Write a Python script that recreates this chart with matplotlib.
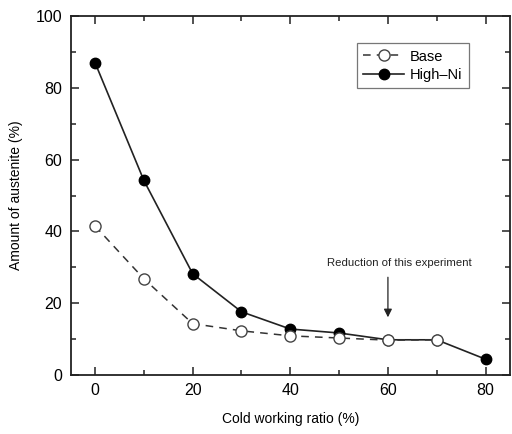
import matplotlib
matplotlib.use("Agg")
import matplotlib.pyplot as plt
from matplotlib.ticker import MultipleLocator

plt.rcParams['font.family'] = ['Liberation Sans', 'DejaVu Sans']

ratio = [0, 10, 20, 30, 40, 50, 60, 70, 80]
high_ni = [87.0, 54.2, 28.2, 17.6, 12.8, 11.7, 9.8, 9.8, 4.4]
base_ratio = [0, 10, 20, 30, 40, 50, 60, 70]
base = [41.5, 26.8, 14.3, 12.3, 10.9, 10.3, 9.7, 9.8]

fig = plt.figure(figsize=(5.12, 4.34), dpi=100)
ax = fig.add_axes([0.138, 0.136, 0.858, 0.827])

ax.plot(ratio, high_ni, '-', color='#222222', lw=1.2, marker='o',
        markersize=7.5, markerfacecolor='black', markeredgecolor='black',
        label='High\u2013Ni', zorder=2)
ax.plot(base_ratio, base, '--', color='#333333', lw=1.1, dashes=(5, 4),
        marker='o', markersize=8, markerfacecolor='white',
        markeredgecolor='#444444', markeredgewidth=1.0, label='Base', zorder=3)

ax.set_xlim(-5, 85)
ax.set_ylim(0, 100)
ax.xaxis.set_major_locator(MultipleLocator(20))
ax.xaxis.set_minor_locator(MultipleLocator(10))
ax.yaxis.set_major_locator(MultipleLocator(20))
ax.yaxis.set_minor_locator(MultipleLocator(10))
ax.tick_params(which='both', direction='in', top=True, right=True,
               labelsize=11.5, width=1.1, color='#222222')
ax.tick_params(which='major', length=6, pad=6)
ax.tick_params(which='minor', length=3.5)
for s in ax.spines.values():
    s.set_linewidth(1.3)
    s.set_color('#222222')

ax.set_xlabel('Cold working ratio (%)', fontsize=10, labelpad=10)
ax.set_ylabel('Amount of austenite (%)', fontsize=10, labelpad=9)

ax.annotate('', xy=(60, 15.3), xytext=(60, 28),
            arrowprops=dict(arrowstyle='-|>', color='#222222', lw=0.9,
                            mutation_scale=12))
ax.text(62.3, 31.3, 'Reduction of this experiment', fontsize=8.2,
        ha='center', va='center', color='#222222')

handles, labels = ax.get_legend_handles_labels()
leg = ax.legend(handles[::-1], labels[::-1], loc='upper right',
                bbox_to_anchor=(0.907, 0.925), fontsize=10.5, frameon=True,
                fancybox=False, edgecolor='#555555', handlelength=2.8,
                handletextpad=0.4, borderpad=0.45, labelspacing=0.3,
                borderaxespad=0)
leg.get_frame().set_linewidth(0.9)

fig.savefig('out.png', dpi=100)
